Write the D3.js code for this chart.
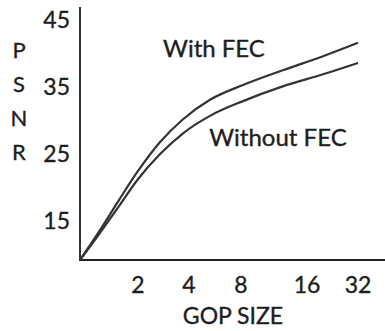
<!DOCTYPE html>
<html><head><meta charset="utf-8">
<script src="https://cdn.jsdelivr.net/npm/d3@7"></script>
<style>html,body{margin:0;padding:0;background:#fff;}svg{display:block;}</style>
</head><body>
<script>
// Data
const gopTicks = [2, 4, 8, 16, 32];
const psnrTicks = [15, 25, 35, 45];
const curveGop       = [1, 1.26, 1.59, 1.98, 2.7, 3.69, 5.29, 8.17, 12.4, 19.9, 32];
const withFecPsnr    = [9.2, 13.5, 18.1, 22.3, 26.8, 30.2, 33.1, 35.3, 37.5, 39.6, 41.6];
const withoutFecPsnr = [9.2, 13.1, 17.2, 21.1, 25.0, 28.1, 30.7, 32.9, 35.1, 36.9, 38.6];
const seriesLabels = ["With FEC", "Without FEC"];
const yTitle = ["P", "S", "N", "R"];
const xTitle = "GOP SIZE";

const W = 385, H = 331;
const font = "Lato, 'Open Sans', sans-serif";
const ink = "#1e1e1e";

const svg = d3.select("body").append("svg").attr("width", W).attr("height", H);

// x: log2 of GOP size, with the uneven spacing of the original
const xPos = d3.scaleLinear().domain([0, 1, 2, 3, 4, 5]).range([80, 138, 189, 241, 307, 358]);
const x = g => xPos(Math.log2(g));
const y = d3.scaleLinear().domain([9.2, 45]).range([260, 20]);

function txt(sel, size) {
  return sel.attr("font-family", font).attr("font-size", size)
    .attr("fill", ink).attr("stroke", ink).attr("stroke-width", 0.35).attr("dy", "0.36em");
}

// axes lines
svg.append("line").attr("x1", 80).attr("x2", 80).attr("y1", 7).attr("y2", 260)
  .attr("stroke", "#333").attr("stroke-width", 2);
svg.append("line").attr("x1", 79).attr("x2", 385).attr("y1", 260).attr("y2", 260)
  .attr("stroke", "#222").attr("stroke-width", 2);

// y tick labels
txt(svg.selectAll(".yt").data(psnrTicks).enter().append("text")
  .attr("x", 70).attr("y", d => y(d)).attr("text-anchor", "end"), 23).text(d => d);

// x tick labels
txt(svg.selectAll(".xt").data(gopTicks).enter().append("text")
  .attr("x", d => x(d)).attr("y", 285).attr("text-anchor", "middle"), 23).text(d => d);

// y title stacked letters
txt(svg.selectAll(".ytl").data(yTitle).enter().append("text")
  .attr("x", 19).attr("y", (d, i) => 50 + i * 34).attr("text-anchor", "middle"), 22).text(d => d);

// x title
txt(svg.append("text").attr("x", 233).attr("y", 316).attr("text-anchor", "middle"), 23).text(xTitle);

// curves
const line = d3.line().x(d => x(d[0])).y(d => y(d[1])).curve(d3.curveMonotoneX);
const series = [d3.zip(curveGop, withFecPsnr), d3.zip(curveGop, withoutFecPsnr)];
svg.selectAll(".curve").data(series).enter().append("path")
  .attr("d", line).attr("fill", "none").attr("stroke", "#333").attr("stroke-width", 2.2);

// series labels
txt(svg.append("text").attr("x", 214).attr("y", 48).attr("text-anchor", "middle"), 24).text(seriesLabels[0]);
txt(svg.append("text").attr("x", 278).attr("y", 137).attr("text-anchor", "middle"), 24).text(seriesLabels[1]);
</script>
</body></html>
